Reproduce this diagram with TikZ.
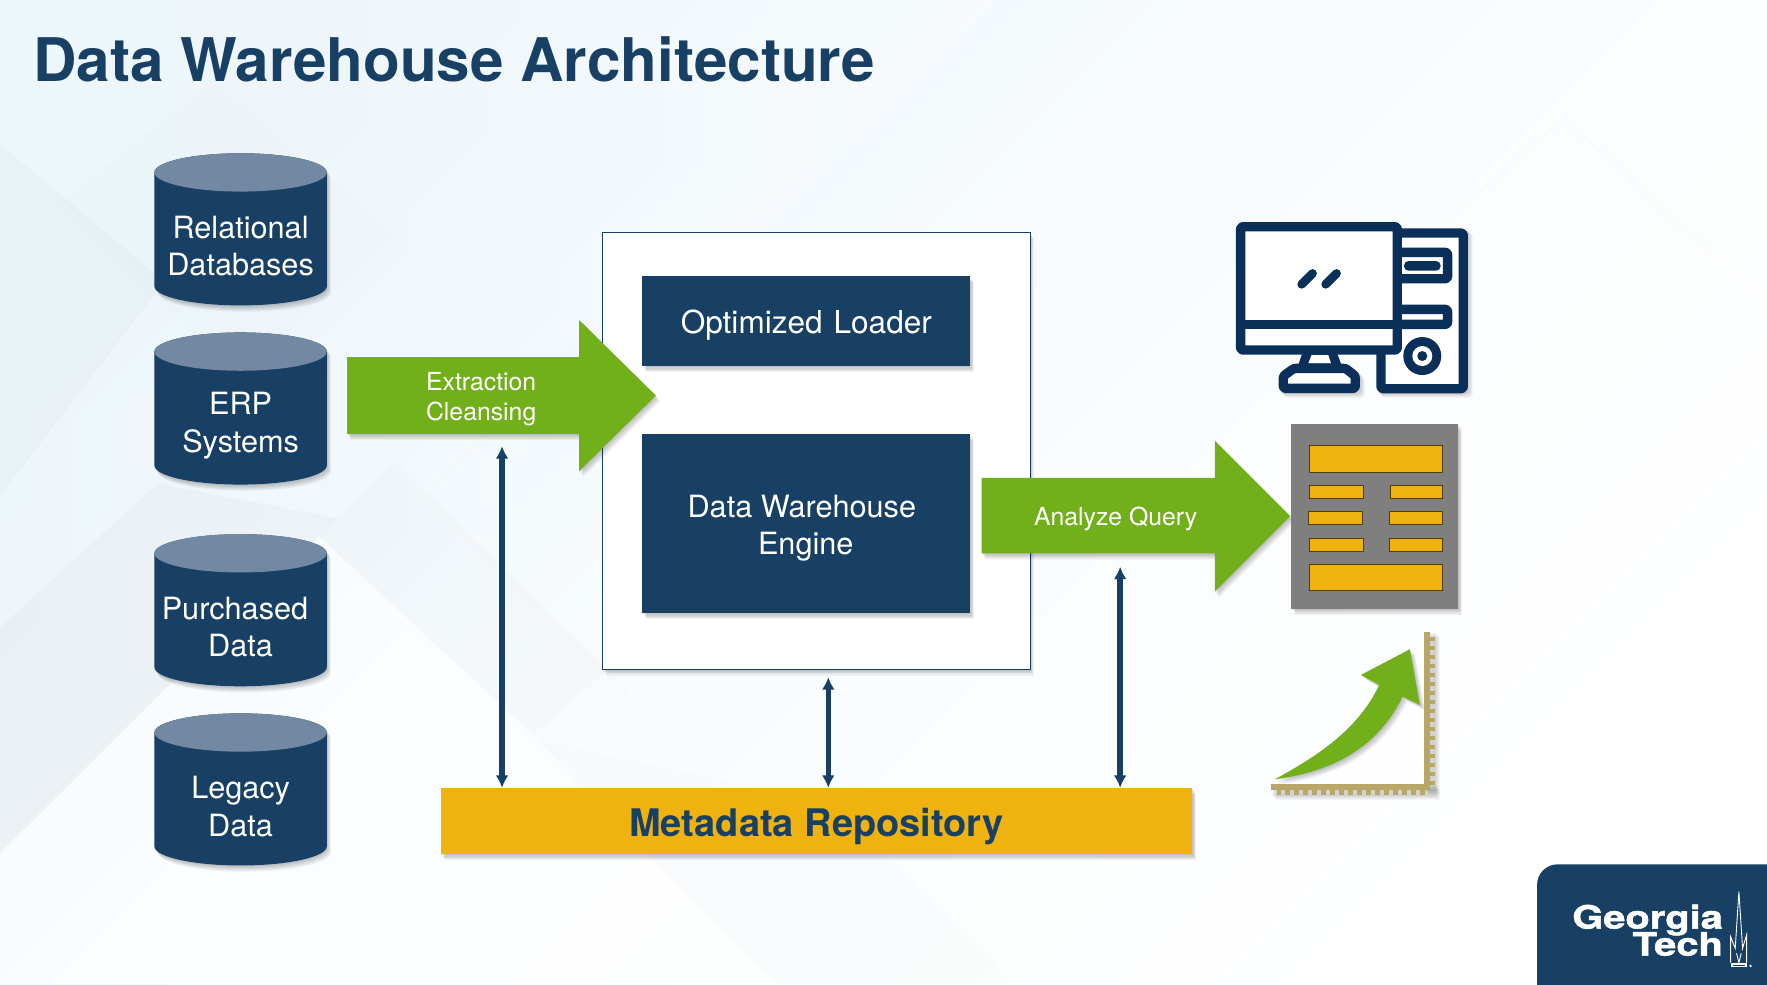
\documentclass[tikz,border=0pt]{standalone}
\usepackage{fontspec}
\usepackage{graphicx}
\setmainfont{TeX Gyre Heros}
\newfontfamily\logofont[FakeBold=1.4]{TeX Gyre Heros Bold}
\usetikzlibrary{arrows.meta,calc}
\definecolor{navy}{HTML}{184064}
\definecolor{iconnavy}{HTML}{0A2F59}
\definecolor{cyltop}{HTML}{7389A3}
\definecolor{leaf}{HTML}{72B01B}
\definecolor{gold}{HTML}{EFB20F}
\definecolor{tan}{HTML}{B9A768}
\definecolor{slab}{HTML}{7F7F7F}
\definecolor{pale}{HTML}{EDF6FB}
\tikzset{
  cyltxt/.style={text=white,font=\fontsize{27.2}{33}\selectfont,align=center,inner sep=0pt},
  smalltxt/.style={text=white,font=\fontsize{22}{27}\selectfont,align=center,inner sep=0pt},
  biarrow/.style={navy,line width=4.8pt,{Latex[length=11pt,width=11.5pt]}-{Latex[length=11pt,width=11.5pt]}},
  goldbar/.style={fill=gold,draw=black!65!gold,line width=.5pt},
  iconline/.style={draw=iconnavy,line width=8.3pt,line join=round,rounded corners=2pt},
  shadowlayer/.style={fill=black,fill opacity=.05,draw=none},
  bgshape/.style={draw=none}
}
\newcommand{\softshadow}[1]{%
  \foreach \d in {1,2,3,4,5}{\path[shadowlayer,shift={(\d*.7pt,-\d*1.1pt)}] #1;}}
\newcommand{\cylpath}[1]{(137,#1+17) -- (137,#1+118) arc[start angle=180,end angle=360,x radius=76.5,y radius=-17] -- (290,#1+17) arc[start angle=0,end angle=180,x radius=76.5,y radius=-17] -- cycle}
\begin{document}
\begin{tikzpicture}[x=1pt,y=-1pt]
\useasboundingbox (0,0) rectangle (1568,873.2);
% background
\shade[top color=pale,bottom color=white,middle color=pale!35!white,shading angle=45] (0,0) rectangle (1568,873.2);
\shade[left color=pale,right color=pale!25!white,opacity=.4] (0,0) -- (885,0) -- (0,873.2) -- cycle;
\fill[gray,opacity=.045,bgshape] (0,557) -- (140,429) -- (300,460) -- (283,476) -- (0,757) -- cycle;
\fill[gray,opacity=.04,bgshape] (0,128) -- (146,250) -- (0,440) -- cycle;
\fill[gray,opacity=.015,bgshape] (56,178) -- (190,70) -- (350,210) -- (210,335) -- cycle;
\fill[gray,opacity=.02,bgshape] (283,476) -- (473,652) -- (540,594) -- (350,410) -- cycle;
\fill[gray,opacity=.012,bgshape] (470,655) -- (690,873.2) -- (900,873.2) -- (745,715) -- cycle;
\fill[white,opacity=.6,bgshape] (0,757) -- (283,476) -- (473,652) -- (579,763) -- (690,873.2) -- (0,873.2) -- cycle;
\draw[gray!7,line width=.7pt] (378,440) -- (530,290);
\draw[gray!7,line width=.7pt] (378,440) -- (600,660);
\draw[gray!5,line width=.7pt] (1250,225) -- (1388,105) -- (1568,270);
% title
\node[anchor=base west,inner sep=0pt,text=navy,font=\fontsize{53.4}{60}\selectfont\bfseries] (title) at (29.5,72) {Data Warehouse Architecture};
% cylinders
\foreach \t in {136,295,474,633}{
  \softshadow{\cylpath{\t}}
  \fill[navy] \cylpath{\t};
  \fill[cyltop] (213.5,\t+17) ellipse[x radius=76.5,y radius=17];
}
\node[cyltxt] (cA) at (213.5,218.7) {Relational\\Databases};
\node[cyltxt] (cB) at (213.5,377.7) {ERP\\Systems};
\node[cyltxt] (cC) at (208.5,556.7) {Purchased\\\hspace*{10pt}Data};
\node[cyltxt] (cD) at (213.5,715.7) {Legacy\\Data};
% main box
\softshadow{(535,206) rectangle (914,594)}
\draw[fill=white,draw=navy,line width=.8pt] (535,206) rectangle (914,594);
\softshadow{(570,245) rectangle (861,325)}
\fill[navy] (570,245) rectangle (861,325);
\node[text=white,font=\fontsize{28}{33}\selectfont,inner sep=0pt] (loader) at (715.5,288.5) {Optimized\hspace{2pt} Loader};
\softshadow{(570,385) rectangle (861,544)}
\fill[navy] (570,385) rectangle (861,544);
\node[cyltxt] (engine) at (715,468.5) {\hspace*{-7pt}Data Warehouse\\Engine};
% green arrows
\softshadow{(308,317) -- (514,317) -- (514,284) -- (582,351) -- (514,418) -- (514,385) -- (308,385) -- cycle}
\fill[leaf] (308,317) -- (514,317) -- (514,284) -- (582,351) -- (514,418) -- (514,385) -- (308,385) -- cycle;
\node[smalltxt] (extract) at (427,354) {Extraction\\Cleansing};
\softshadow{(871,424) -- (1078,424) -- (1078,391) -- (1145,458) -- (1078,525) -- (1078,491) -- (871,491) -- cycle}
\fill[leaf] (871,424) -- (1078,424) -- (1078,391) -- (1145,458) -- (1078,525) -- (1078,491) -- (871,491) -- cycle;
\node[smalltxt] (analyze) at (990,460.5) {Analyze Query};
% report
\softshadow{(1146,376) rectangle (1294,540)}
\fill[slab] (1146,376) rectangle (1294,540);
\path[goldbar] (1162,395) rectangle (1280,419);
\path[goldbar] (1162,431) rectangle (1210,442);
\path[goldbar] (1234,431) rectangle (1280,442);
\path[goldbar] (1161,454) rectangle (1209,465);
\path[goldbar] (1233,454) rectangle (1280,465);
\path[goldbar] (1162,478) rectangle (1210,489);
\path[goldbar] (1233,478) rectangle (1280,489);
\path[goldbar] (1162,501) rectangle (1280,524);
% metadata
\softshadow{(391,699) rectangle (1058,758)}
\fill[gold] (391,699) rectangle (1058,758);
\node[text=navy,inner sep=0pt,font=\fontsize{33.7}{38}\selectfont\bfseries] (meta) at (724.5,733) {Metadata Repository};
\coordinate (mtop) at (724.5,699);
% double arrows
\coordinate (a1) at (445.5,396);
\coordinate (a2) at (735,601);
\coordinate (a3) at (994,503);
\draw[biarrow] (a1) -- (a1 |- mtop);
\draw[biarrow] (a2) -- (a2 |- mtop);
\draw[biarrow] (a3) -- (a3 |- mtop);
% computer icon
\begin{scope}[shift={(1064.8,177.5)},x=.2958pt,y=-.2958pt]
  \foreach \d in {1,2,3,4,5}{
    \draw[draw=black,opacity=.04,line width=8.3pt,line join=round,shift={(\d*3,\d*3)}] (592,99) -- (790,99) -- (790,566) -- (543,566) -- (543,450);
    \draw[draw=black,opacity=.04,line width=8.3pt,line join=round,shift={(\d*3,\d*3)}] (250,565) -- (250,528) -- (282,505) -- (437,505) -- (466,528) -- (466,565) -- cycle;
  }
  \draw[iconline,fill=white] (592,99) -- (790,99) -- (790,566) -- (543,566) -- (543,440) -- cycle;
  \draw[iconline,fill=white] (606,157) -- (743,157) -- (743,236) -- (606,236);
  \fill[iconnavy,rounded corners=4pt] (612,183) rectangle (722,212);
  \draw[iconline,fill=white] (606,328) -- (743,328) -- (743,373) -- (606,373);
  \fill[iconnavy] (667,468) circle[radius=57];
  \fill[white] (667,468) circle[radius=30];
  \fill[iconnavy] (667,468) circle[radius=15];
  \fill[iconnavy] (310,450) -- (408,450) -- (430,510) -- (290,510) -- cycle;
  \fill[white] (335,465) -- (385,465) -- (393,490) -- (325,490) -- cycle;
  \draw[iconline,fill=white] (250,565) -- (250,528) -- (282,505) -- (437,505) -- (466,528) -- (466,565) -- cycle;
  \draw[iconline,fill=white] (122,80) rectangle (592,450);
  \draw[draw=iconnavy,line width=8.3pt] (122,373) -- (592,373);
  \draw[draw=iconnavy,line width=7.6pt,line cap=round] (305,253) -- (338,220);
  \draw[draw=iconnavy,line width=7.6pt,line cap=round] (377,253) -- (410,220);
\end{scope}
% chart
\begin{scope}[shift={(1109.1,550.1)},x=.2958pt,y=-.2958pt]
  \foreach \d in {1,2,3,4,5}{
    \path[shadowlayer,fill opacity=.035,shift={(\d*3,\d*3)}] (522,35) rectangle (556,510);
    \path[shadowlayer,fill opacity=.035,shift={(\d*3,\d*3)}] (63,493) rectangle (556,526);
    \path[shadowlayer,shift={(\d*3,\d*3)}] (75,478) .. controls (180,420) and (320,340) .. (388,195) -- (333,165) -- (480,88) -- (510,255) -- (458,230) .. controls (400,350) and (290,450) .. cycle;
  }
  \fill[tan] (522,35) rectangle (540,510);
  \fill[tan] (63,493) rectangle (540,510);
  \draw[tan,line width=4.7pt,dash pattern=on 4pt off 4pt] (548,50) -- (548,500);
  \draw[tan,line width=4.7pt,dash pattern=on 4pt off 4pt] (525,518) -- (80,518);
  \fill[leaf] (75,478) .. controls (180,420) and (320,340) .. (388,195) -- (333,165) -- (480,88) -- (510,255) -- (458,230) .. controls (400,350) and (290,450) .. cycle;
\end{scope}
% logo
\fill[navy,rounded corners=18pt] (1364,900) -- (1364,767) -- (1600,767) -- (1600,900) -- cycle;
\node[anchor=east,align=right,inner sep=0pt,text=white,font=\logofont\fontsize{28.5}{25}\selectfont] (geo) at (1529,825.5) {\scalebox{1.24}[1]{Georgia}\\[-4pt]\scalebox{1.24}[1]{Tech}};
\begin{scope}[shift={(1109.1,550.1)},x=.2958pt,y=-.2958pt,white,line width=.8pt]
  \draw (1442,1028) -- (1442,950) -- (1456,985) -- (1467,815) -- (1478,985) -- (1490,945) -- (1490,1028);
  \draw (1460,1000) -- (1467,1028) -- (1474,1000);
  \fill (1442,1030) rectangle (1490,1042);
  \fill[navy] (1448,1034) rectangle (1484,1038);
  \fill (1502,1038) circle[radius=4];
\end{scope}
\end{tikzpicture}
\end{document}
